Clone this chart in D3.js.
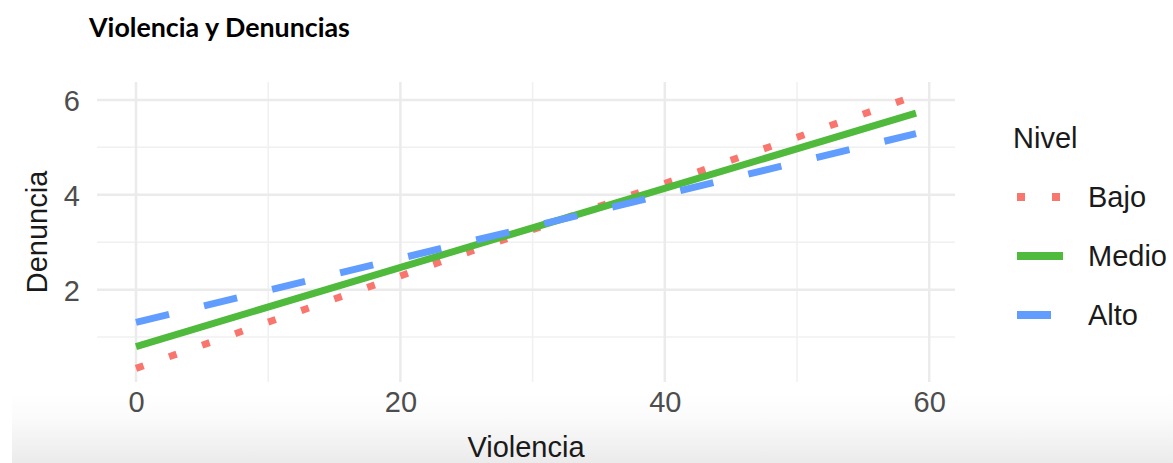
<!DOCTYPE html>
<html>
<head>
<meta charset="utf-8">
<script src="https://cdn.jsdelivr.net/npm/d3@7"></script>
<style>
  html, body { margin: 0; padding: 0; background: #fff; }
  svg { display: block; }
</style>
</head>
<body>
<svg id="chart" width="1173" height="463"></svg>
<script>
// ---- data ----
const violencia = [0, 59];
const bajo = [0.34, 6.09];
const medio = [0.80, 5.72];
const alto = [1.31, 5.29];
const seriesNames = ["Bajo", "Medio", "Alto"];
const xTicks = [0, 20, 40, 60];
const xMinor = [10, 30, 50];
const yTicks = [2, 4, 6];
const yMinor = [1, 3, 5];
const chartTitle = "Violencia y Denuncias";
const xTitle = "Violencia";
const yTitle = "Denuncia";
const legendTitle = "Nivel";

const colors = { Bajo: "#F8766D", Medio: "#4FBA3C", Alto: "#619CFF" };
const dashes = { Bajo: "8,27", Medio: null, Alto: "34,36" };

const seriesData = [bajo, medio, alto];
const series = seriesNames.map((name, i) => ({
  name,
  points: violencia.map((v, j) => ({ x: v, y: seriesData[i][j] }))
}));

const svg = d3.select("#chart");
const W = 1173, H = 463;
const panel = { left: 97, right: 955, top: 82, bottom: 382 };

// bottom shadow band
const defs = svg.append("defs");
const grad = defs.append("linearGradient").attr("id", "shade").attr("x1", 0).attr("y1", 0).attr("x2", 0).attr("y2", 1);
grad.append("stop").attr("offset", "0%").attr("stop-color", "#ffffff");
grad.append("stop").attr("offset", "35%").attr("stop-color", "#fbfbfb");
grad.append("stop").attr("offset", "100%").attr("stop-color", "#ebebeb");
svg.append("rect").attr("x", 12).attr("y", 392).attr("width", W - 12).attr("height", H - 392).attr("fill", "url(#shade)");

// scales (ggplot-style 5% expansion)
const xExt = d3.extent(violencia);
const xr = xExt[1] - xExt[0];
const x = d3.scaleLinear().domain([xExt[0] - 0.05 * xr, xExt[1] + 0.05 * xr]).range([panel.left, panel.right]);
const allY = [...bajo, ...medio, ...alto];
const yExt = d3.extent(allY);
const yr = yExt[1] - yExt[0];
const y = d3.scaleLinear().domain([yExt[0] - 0.05 * yr, yExt[1] + 0.05 * yr]).range([panel.bottom, panel.top]);

// grid
const grid = svg.append("g");
grid.selectAll(".ymin").data(yMinor).join("line")
  .attr("x1", panel.left).attr("x2", panel.right)
  .attr("y1", d => y(d)).attr("y2", d => y(d))
  .attr("stroke", "#f0f0f0").attr("stroke-width", 1.5);
grid.selectAll(".xmin").data(xMinor).join("line")
  .attr("y1", panel.top).attr("y2", panel.bottom)
  .attr("x1", d => x(d)).attr("x2", d => x(d))
  .attr("stroke", "#f0f0f0").attr("stroke-width", 1.5);
grid.selectAll(".ymaj").data(yTicks).join("line")
  .attr("x1", panel.left).attr("x2", panel.right)
  .attr("y1", d => y(d)).attr("y2", d => y(d))
  .attr("stroke", "#ebebeb").attr("stroke-width", 2.5);
grid.selectAll(".xmaj").data(xTicks).join("line")
  .attr("y1", panel.top).attr("y2", panel.bottom)
  .attr("x1", d => x(d)).attr("x2", d => x(d))
  .attr("stroke", "#ebebeb").attr("stroke-width", 2.5);

// axes (text only)
const font = "'Liberation Sans', Arial, sans-serif";
const xAxis = svg.append("g").attr("transform", `translate(0,${panel.bottom + 8})`)
  .call(d3.axisBottom(x).tickValues(xTicks).tickFormat(d3.format("d")).tickSize(0).tickPadding(0));
xAxis.select(".domain").remove();
xAxis.selectAll("text").attr("font-family", font).attr("font-size", 29).attr("fill", "#4d4d4d").attr("dy", "0.75em");

const yAxis = svg.append("g").attr("transform", `translate(${panel.left - 17},0)`)
  .call(d3.axisLeft(y).tickValues(yTicks).tickFormat(d3.format("d")).tickSize(0).tickPadding(0));
yAxis.select(".domain").remove();
yAxis.selectAll("text").attr("font-family", font).attr("font-size", 29).attr("fill", "#4d4d4d").attr("dy", "0.36em");

// lines
const line = d3.line().x(d => x(d.x)).y(d => y(d.y));
svg.append("g").selectAll("path").data(series).join("path")
  .attr("d", d => line(d.points))
  .attr("fill", "none")
  .attr("stroke", d => colors[d.name])
  .attr("stroke-width", 7)
  .attr("stroke-linecap", "butt")
  .attr("stroke-dasharray", d => dashes[d.name]);

// axis titles
svg.append("text").attr("x", (panel.left + panel.right) / 2).attr("y", 457)
  .attr("text-anchor", "middle").attr("font-family", font).attr("font-size", 29).attr("fill", "#1a1a1a")
  .text(xTitle);
svg.append("text").attr("transform", `translate(47,${(panel.top + panel.bottom) / 2}) rotate(-90)`)
  .attr("text-anchor", "middle").attr("font-family", font).attr("font-size", 29).attr("fill", "#1a1a1a")
  .text(yTitle);

// title
const t = svg.append("text").attr("x", 89).attr("y", 37)
  .attr("font-family", "Lato, 'Open Sans', sans-serif").attr("font-weight", "bold")
  .attr("font-size", 22).attr("fill", "#000").text(chartTitle);
const tw = t.node().getComputedTextLength();
if (tw > 0) t.attr("font-size", 22 * 261 / tw);

// legend
const lg = svg.append("g");
lg.append("text").attr("x", 1013).attr("y", 148).attr("font-family", font).attr("font-size", 29)
  .attr("fill", "#1a1a1a").text(legendTitle);
const rowY = [197, 256, 315];
const rows = lg.selectAll(".row").data(series).join("g").attr("transform", (d, i) => `translate(0,${rowY[i]})`);
rows.append("line").attr("x1", 1017).attr("x2", 1063).attr("y1", 0).attr("y2", 0)
  .attr("stroke", d => colors[d.name]).attr("stroke-width", 8)
  .attr("stroke-dasharray", d => dashes[d.name]);
rows.append("text").attr("x", 1088).attr("y", 0).attr("dy", "0.36em")
  .attr("font-family", font).attr("font-size", 29).attr("fill", "#1a1a1a").text(d => d.name);
</script>
</body>
</html>
